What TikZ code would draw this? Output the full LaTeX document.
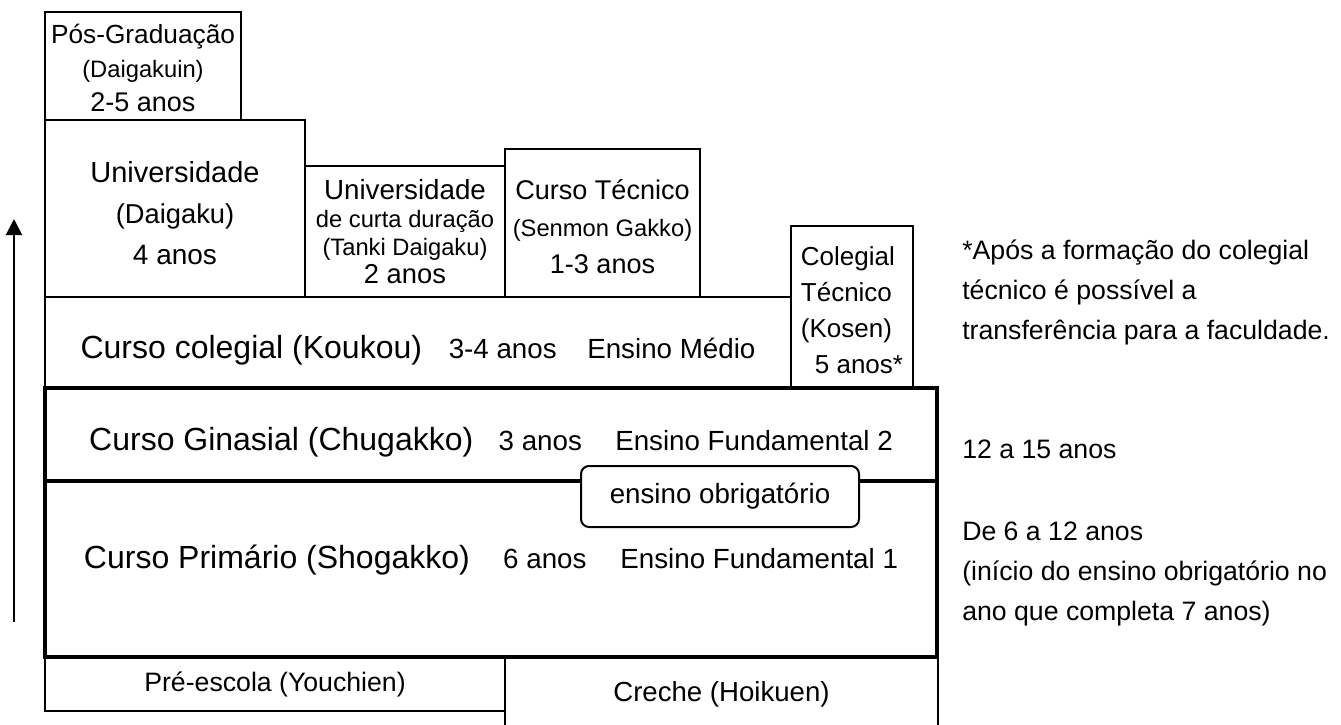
\documentclass[tikz,border=0pt]{standalone}
\usepackage{fontspec}
\setmainfont{Liberation Sans}
\usetikzlibrary{positioning}
\usetikzlibrary{arrows.meta}

\newcommand{\rowfont}{\fontsize{24}{28}\selectfont}
\newcommand{\txtfont}{\fontsize{20.8}{28}\selectfont}
\newcommand{\smallfont}{\fontsize{17.8}{22}\selectfont}

\tikzset{
    boxsize/.style 2 args={minimum width=#1*0.75pt, minimum height=#2*0.75pt}
}

\begin{document}
\begin{tikzpicture}[
        x=0.75pt, y=-0.75pt,
        box/.style={rectangle, draw=black, line width=1.5pt, inner sep=0pt, outer sep=0pt, align=center, font=\txtfont},
        stage/.style={box, line width=3.5pt},
        rowtext/.style={text height=26pt, text depth=2pt},
        note/.style={anchor=west, align=left, inner sep=0pt, font=\fontsize{20}{30}\selectfont},
        arrow/.style={-{Triangle[length=12pt, width=12pt]}, line width=1.5pt}
        ]
        \useasboundingbox (0,0) rectangle (1341,724);

        % Nodes
        \node[box, boxsize={260}{177}, anchor=north west, font=\fontsize{20.5}{30.75}\selectfont] (univ) at (45,120)
            {\rule{0pt}{22pt}{\fontsize{21.75}{30.75}\selectfont Universidade}\\ (Daigaku)\\ {\fontsize{21}{30.75}\selectfont 4 anos}};
        \node[box, boxsize={196}{108}, anchor=south west, font=\fontsize{20.25}{25.5}\selectfont] (posgrad) at (univ.north west)
            {\rule{0pt}{18pt}{\fontsize{19.7}{25.5}\selectfont Pós-Graduação}\\ {\smallfont (Daigakuin)}\\ 2-5 anos};
        \node[box, boxsize={200}{131}, anchor=south west, font=\fontsize{17.8}{21}\selectfont] (tanki) at (univ.south east)
            {{\fontsize{20.8}{25}\selectfont Universidade}\\ de curta duração\\ (Tanki Daigaku)\\ {\fontsize{20.5}{23}\selectfont 2 anos}};
        \node[box, boxsize={195}{148}, anchor=south west, font=\fontsize{20.3}{27.75}\selectfont] (tecnico) at (tanki.south east)
            {\rule{0pt}{20.5pt}Curso Técnico\\ {\smallfont (Senmon Gakko)}\\ 1-3 anos};
        \node[box, rowtext, boxsize={746}{91}, anchor=north west] (koukou) at (univ.south west)
            {{\rowfont Curso colegial (Koukou)}\hspace{20pt}3-4 anos\hspace{23pt}Ensino Médio};
        \node[box, boxsize={122}{162}, anchor=south west, align=left, font=\fontsize{19.5}{27}\selectfont] (kosen) at (koukou.south east)
            {\rule{0pt}{19.5pt}Colegial\\ Técnico\\ (Kosen)\\ \hspace{10.5pt}5 anos*};
        \node[stage, rowtext, boxsize={892}{93}, anchor=north west] (chugakko) at (koukou.south west)
            {{\rowfont Curso Ginasial (Chugakko)}\hspace{19pt}3 anos\hspace{25pt}Ensino Fundamental 2};
        \node[stage, text height=18pt, text depth=18.8pt, boxsize={892}{176}, anchor=north west] (shogakko) at (chugakko.south west)
            {{\rowfont Curso Primário (Shogakko)}\hspace{25pt}6 anos\hspace{25.5pt}Ensino Fundamental 1};
        \node[box, boxsize={460}{54}, anchor=north west, font=\fontsize{20}{24}\selectfont] (youchien) at (shogakko.south west)
            {Pré-escola (Youchien)};
        \node[box, boxsize={433}{74}, anchor=north west, font=\fontsize{20.7}{24}\selectfont] (hoikuen) at (youchien.north east)
            {Creche (Hoikuen)};
        \node[box, rounded corners=6pt, fill=white, boxsize={278}{61}] (obrig) at (720,496.5)
            {ensino obrigatório};

        % Notes
        \node[note] (obs) at (962,292)
            {*Após a formação do colegial\\ técnico é possível a\\ transferência para a faculdade.};
        \node[note] (idade2) at (962,449) {12 a 15 anos};
        \node[note] (idade1) at (962,574)
            {De 6 a 12 anos\\ (início do ensino obrigatório no\\ ano que completa 7 anos)};

        % Arrow
        \coordinate (agestart) at (14,622);
        \coordinate (ageend) at (14,219);
        \draw[arrow] (agestart) -- (ageend);

    \end{tikzpicture}
\end{document}
